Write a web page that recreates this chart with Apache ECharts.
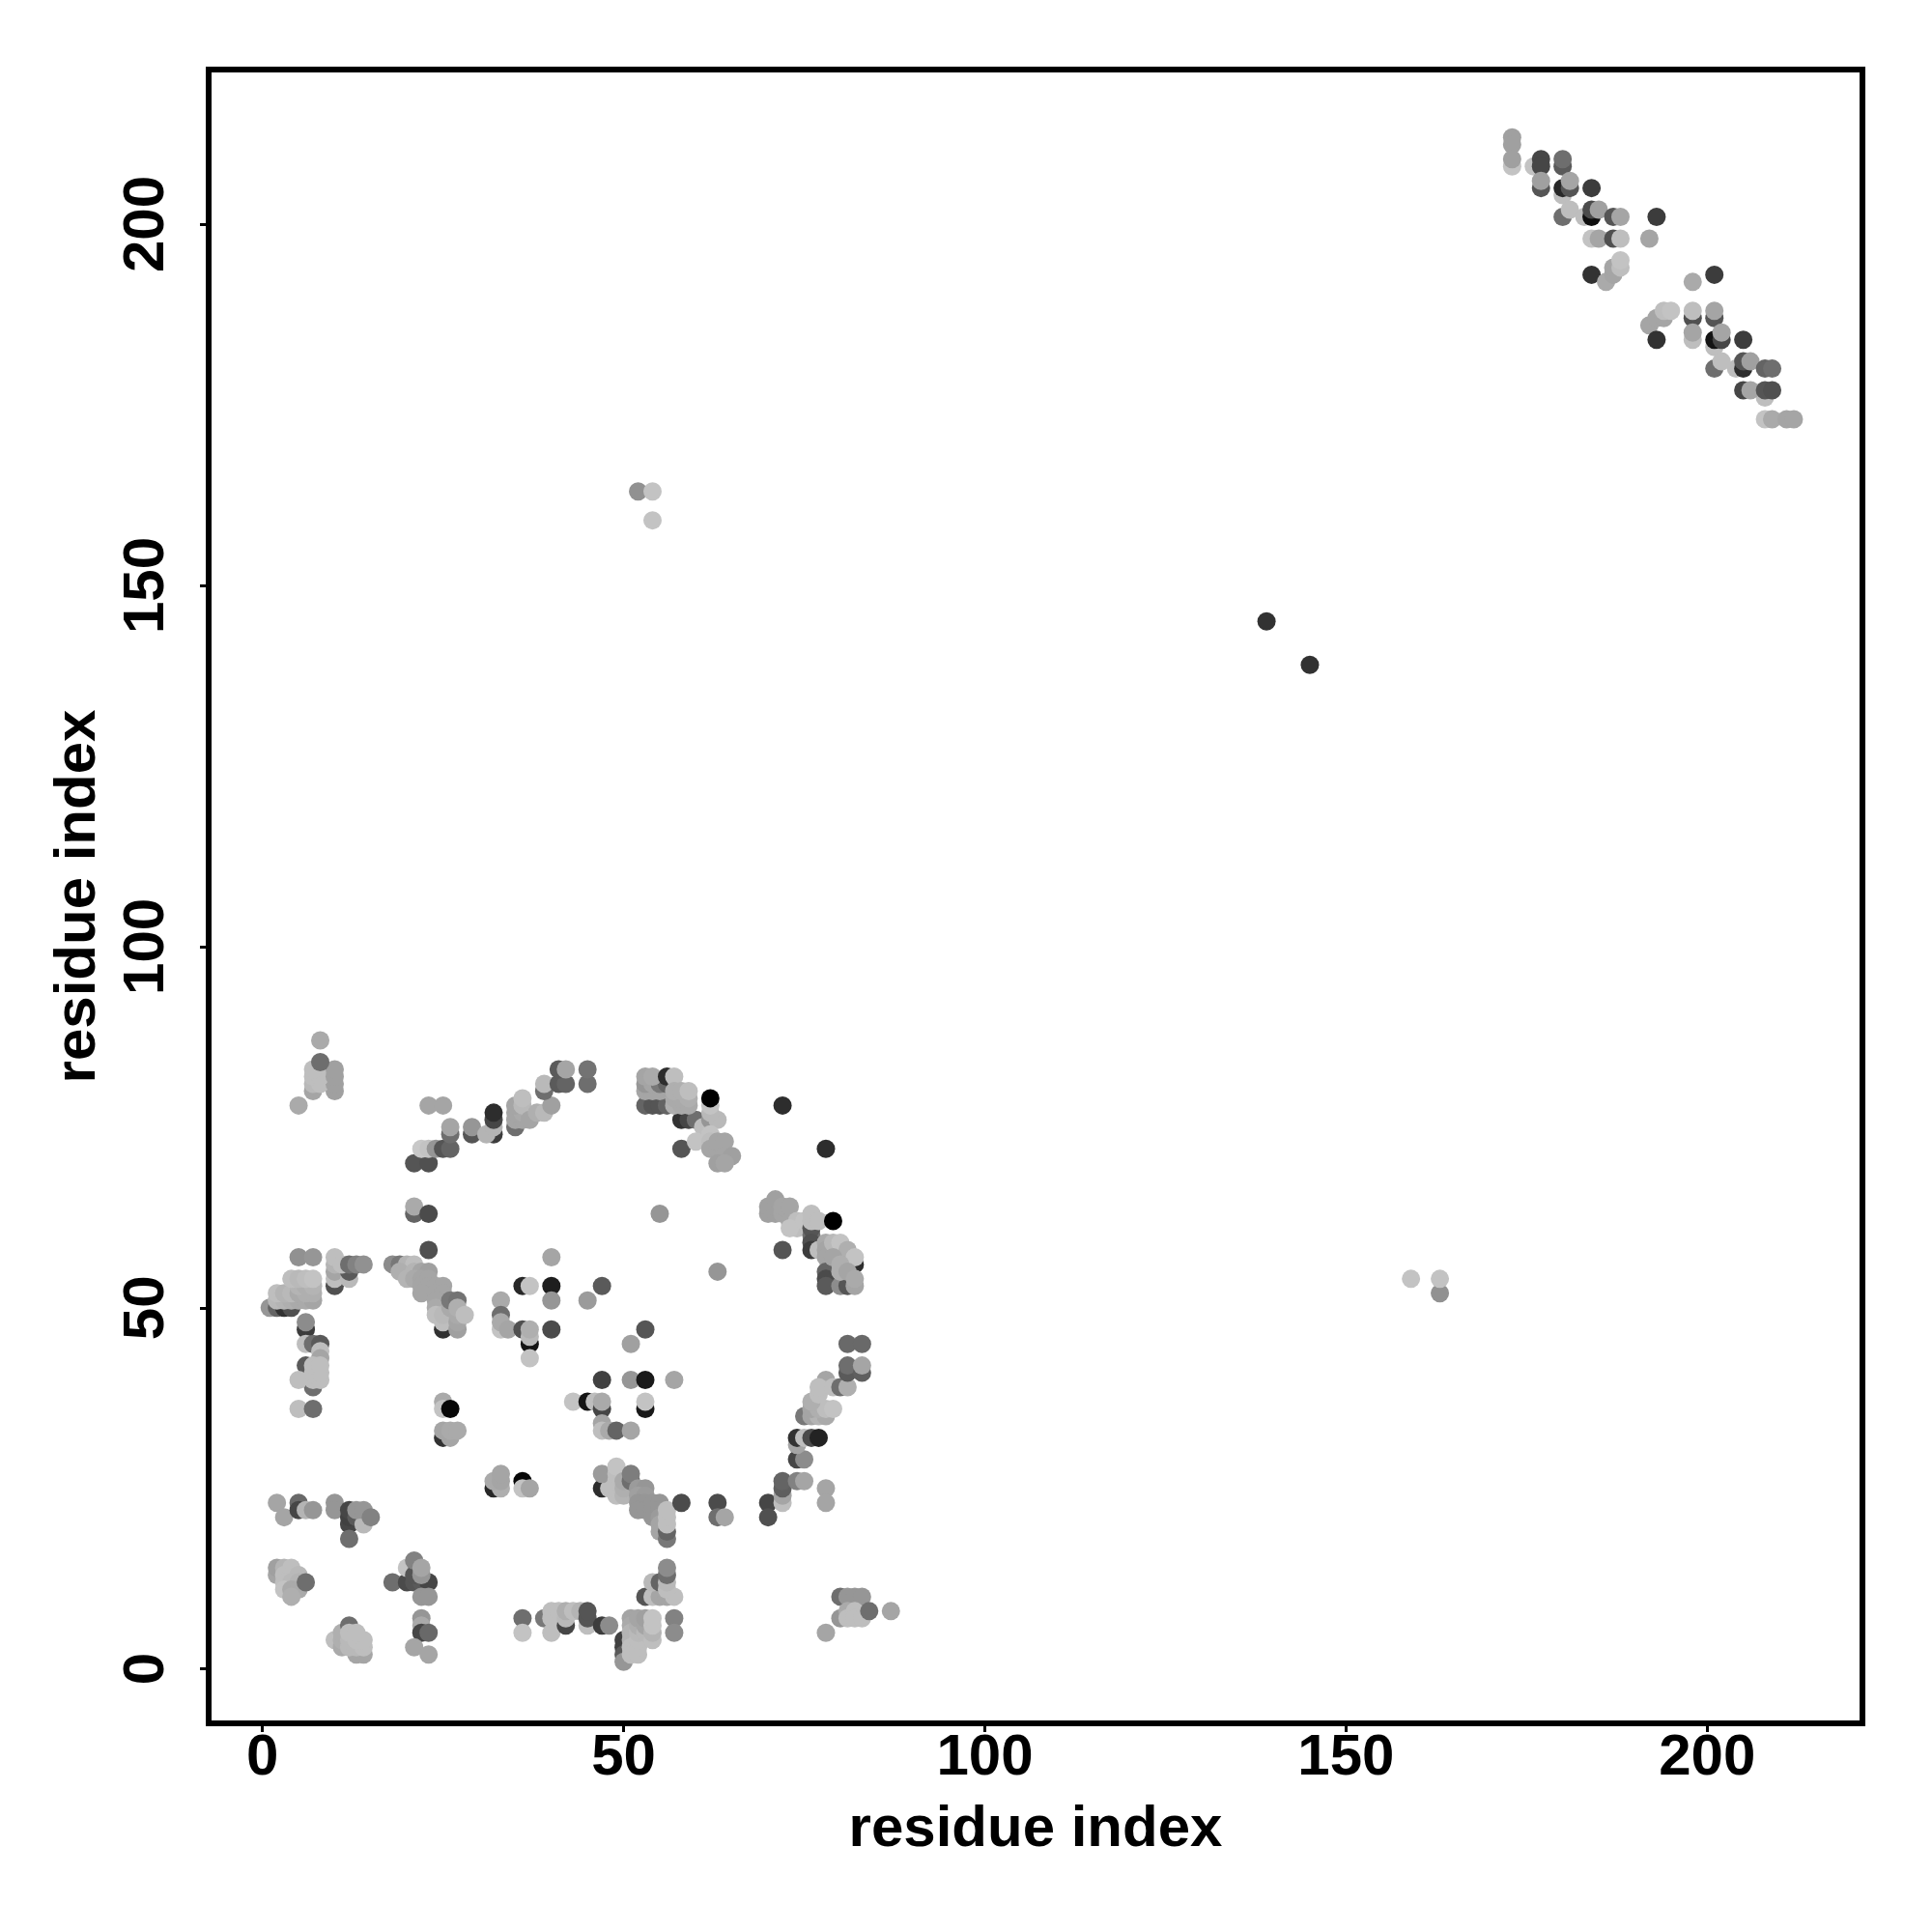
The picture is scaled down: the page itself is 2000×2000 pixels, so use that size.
<!DOCTYPE html>
<html><head><meta charset="utf-8">
<style>html,body{margin:0;padding:0;background:#fff}#c{width:2000px;height:2000px}</style>
<script src="https://cdn.jsdelivr.net/npm/echarts@6/dist/echarts.min.js"></script>
</head><body><div id="c"></div>
<script>
// each contact: [residue i, residue j, grey level]
const axisTicks = [0, 50, 100, 150, 200];
const axisName = 'residue index';
const topLeftA = [[10,80,160],[7,80,165],[7,81,185],[8,81,190],[10,81,160],[7,82,190],[8,82,190],[10,82,160],[10,83,160],[7,83,190],[8,84,110],[8,87,170],[5,78,170]];
const arcB = [[21,70,85],[23,70,80],[22,72,200],[23,72,195],[24,72,150],[25,72,85],[26,72,100],[26,74,110],[26,75,165],[23,78,165],[25,78,165],[29,74,85],[29,75,150],[32,74,60],[31,74,180],[32,75,180],[32,76,70],[32,77,45],[35,75,110],[35,76,165],[36,76,165],[35,77,165],[36,77,170],[35,78,165],[36,78,185],[36,79,190],[37,76,165],[38,77,175],[39,77,185],[40,78,160],[39,80,110],[39,81,185],[41,81,90],[42,81,100],[41,83,90],[42,83,165],[45,81,110],[45,83,115]];
const sideC = [[21,63,100],[21,64,170],[23,63,75],[23,58,80],[55,63,150]];
const rowD = [[5,57,145],[7,57,150],[10,53,80],[10,54,190],[10,55,165],[10,56,180],[10,57,190],[12,54,185],[12,55,90],[11,56,190],[12,56,110],[13,56,130],[14,56,145],[1,50,150],[2,50,100],[3,50,50],[4,50,80],[2,51,185],[3,51,180],[4,51,175],[5,51,170],[6,51,170],[7,51,165],[2,52,190],[3,52,180],[4,52,185],[5,52,170],[6,52,175],[7,52,175],[5,53,180],[6,53,175],[7,53,180],[4,54,190],[5,54,185],[6,54,190],[7,54,195]];
const stackE = [[6,47,60],[6,48,140],[6,45,190],[7,45,110],[8,45,90],[8,44,190],[8,43,165],[6,42,90],[7,39,110],[7,40,190],[8,40,190],[5,40,190],[7,41,190],[8,41,190],[7,42,190],[8,42,190],[5,36,190],[7,36,110]];
const bandF = [[18,56,140],[19,56,120],[20,56,180],[21,56,190],[19,55,175],[21,55,180],[22,55,165],[23,55,160],[20,54,180],[21,54,170],[22,54,165],[23,54,165],[22,53,165],[23,53,165],[24,53,165],[25,53,165],[22,52,165],[24,52,165],[25,52,165],[24,51,165],[24,50,170],[24,49,190],[25,47,50],[25,48,190],[25,49,185],[26,50,170],[26,51,120],[27,51,115],[27,47,160],[27,48,165],[27,49,170],[27,50,175],[28,49,190]];
const midG = [[40,57,165],[36,53,40],[37,53,195],[40,53,30],[40,51,150],[45,51,155],[47,53,90],[33,51,170],[33,49,110],[33,47,195],[33,48,170],[34,47,165],[36,47,80],[37,45,20],[37,43,195],[37,46,185],[37,47,175],[40,47,75],[53,47,85],[51,45,160],[47,40,65],[51,40,150],[53,40,25],[57,40,165]];
const midH = [[25,37,170],[25,36,195],[26,36,8],[25,32,50],[26,32,165],[25,33,165],[26,33,170],[27,33,170],[32,25,40],[33,25,175],[32,26,170],[33,26,165],[33,27,165],[36,26,8],[36,25,195],[37,25,165],[43,37,195],[45,37,20],[46,37,190],[47,36,70],[47,37,170],[53,36,25],[53,37,195],[47,34,165],[47,33,190],[48,33,170],[49,33,100],[51,33,165]];
const diagI = [[47,25,45],[48,25,190],[47,27,155],[49,24,190],[49,25,190],[49,26,190],[49,27,190],[49,28,195],[50,24,180],[50,25,175],[50,26,170],[51,26,110],[51,27,125],[52,25,155],[53,25,150],[52,24,160],[53,24,155],[52,23,150],[53,23,150],[52,22,150],[53,22,150],[54,23,150],[55,23,150],[54,22,150],[54,21,150],[55,22,150],[55,21,155],[55,20,165],[55,19,165],[56,18,120],[56,19,100],[56,20,190],[56,21,190],[56,22,190],[58,23,75],[63,23,75],[63,21,110],[64,21,165],[70,23,70],[70,21,80]];
const rightJ = [[72,23,190],[72,24,165],[72,25,95],[72,26,100],[74,26,130],[75,26,165],[78,25,165],[78,23,165],[74,29,70],[75,29,140],[74,31,165],[74,32,50],[75,32,190],[76,32,75],[77,32,35],[75,35,120],[76,35,165],[77,35,180],[78,35,170],[76,36,165],[77,36,175],[78,36,190],[79,36,195],[76,37,175],[77,38,190],[78,40,165],[77,39,190],[79,39,190],[80,39,110],[81,39,175],[81,41,90],[81,42,110],[83,41,95],[83,42,165],[81,45,105],[83,45,105]];
const lowerK = [[53,10,85],[54,10,190],[55,10,165],[56,10,165],[57,10,190],[54,12,185],[55,12,100],[56,11,190],[56,12,185],[56,13,110],[56,14,140],[57,7,130],[57,5,140],[50,4,65],[50,3,65],[50,2,90],[50,1,150],[51,7,165],[51,6,170],[51,5,180],[51,4,180],[51,3,190],[51,2,190],[52,2,190],[52,3,190],[52,4,190],[52,5,185],[52,6,175],[52,7,165],[53,5,185],[53,6,165],[53,7,160],[54,4,190],[54,5,180],[54,6,195],[54,7,195]];
const rowL = [[36,7,110],[36,5,195],[39,7,120],[40,5,190],[40,7,190],[40,8,190],[41,7,190],[41,8,190],[42,6,70],[42,7,185],[42,8,175],[43,8,190],[44,8,180],[45,6,190],[45,7,85],[45,8,85],[47,6,60],[48,6,140]];
const farM = [[78,5,165],[80,10,110],[81,10,150],[82,10,150],[83,10,150],[80,7,150],[81,8,170],[81,7,190],[82,8,190],[82,7,190],[83,7,190],[84,8,110],[87,8,165]];
const cornerN = [[2,23,165],[3,21,165],[5,23,105],[5,22,70],[6,22,180],[7,22,150],[10,23,150],[10,22,150],[12,20,70],[12,21,65],[12,22,70],[12,18,110],[13,21,90],[14,20,185],[13,22,150],[14,22,150],[15,21,130]];
const cornerO = [[2,13,165],[2,14,160],[3,14,180],[4,14,190],[3,13,190],[4,13,190],[5,13,185],[3,12,190],[4,12,185],[5,12,180],[3,11,195],[4,11,170],[5,11,170],[4,10,175],[6,12,110]];
const cornerP = [[18,12,110],[20,12,75],[21,12,85],[22,12,90],[23,12,70],[20,14,195],[21,13,85],[21,15,130],[22,13,150],[22,14,165],[22,10,150],[23,10,150],[22,7,150],[22,6,170],[22,5,70],[23,5,105],[21,3,165],[23,2,165]];
const cornerQ = [[10,4,190],[11,3,170],[11,4,175],[11,5,175],[12,6,110],[13,2,165],[14,2,165],[12,3,185],[12,4,185],[12,5,190],[13,3,185],[14,3,190],[13,4,190],[14,4,190],[13,5,190]];
const singlesR = [[52,163,145],[54,163,195],[54,159,195],[139,145,50],[145,139,50],[159,54,195],[163,52,145],[163,54,195]];
const upperS = [[53,78,100],[54,78,85],[55,78,85],[56,78,100],[53,80,165],[54,80,165],[55,80,165],[53,81,150],[54,81,165],[55,81,120],[56,81,100],[53,82,165],[54,82,170],[56,82,45],[57,82,190],[58,76,50],[59,76,70],[60,76,110],[57,78,175],[58,78,170],[59,78,170],[57,79,170],[58,79,170],[59,79,175],[57,80,175],[58,80,175],[59,80,190],[61,75,190],[62,76,150],[63,76,185],[62,77,185],[62,78,195],[62,79,0],[58,72,85],[72,78,45],[78,72,45]];
const upperT = [[60,73,195],[62,74,195],[62,73,190],[62,72,165],[63,72,165],[63,73,165],[64,73,165],[64,71,165],[65,71,160],[63,70,160],[64,70,165]];
const ringU = [[70,63,160],[70,64,160],[71,63,160],[71,64,160],[71,65,160],[72,63,165],[72,64,165],[73,62,165],[73,64,165],[74,61,190],[74,62,190],[73,61,195],[75,62,195],[76,60,110],[76,61,85],[76,62,190],[76,63,190],[77,62,190],[79,62,0],[72,58,85],[76,59,80],[76,58,60],[77,58,190],[78,59,170],[78,58,165],[78,57,165],[79,59,185],[80,59,195],[81,56,110],[81,58,175],[82,56,45],[82,57,195],[78,55,100],[78,54,75],[78,53,90],[80,53,140],[81,53,85],[82,53,165],[79,57,165],[80,55,175],[80,56,175],[81,55,165],[82,54,170],[63,55,150]];
const diagV = [[173,212,160],[173,211,160],[173,208,195],[173,209,160],[176,208,195],[177,209,70],[177,208,70],[177,205,85],[177,206,160],[180,208,90],[180,209,110],[180,204,190],[180,205,40],[181,205,85],[181,206,165],[184,205,60],[180,201,110],[181,202,190],[183,201,190],[184,201,15],[184,202,75],[185,202,160],[187,201,85],[188,201,165],[193,201,60],[184,198,195],[185,198,165],[187,198,80],[188,198,190],[192,198,165]];
const diagW = [[184,193,50],[186,192,170],[187,193,165],[187,194,165],[188,194,190],[188,195,195],[198,192,170],[201,193,60],[192,186,165],[193,187,165],[194,187,165],[194,188,190],[195,188,195],[193,184,50],[198,187,80],[198,188,190],[198,184,190],[198,185,165],[201,187,85],[201,188,165],[201,183,190],[201,184,20],[202,184,70],[202,185,165],[205,184,60]];
const diagX = [[201,180,110],[204,180,190],[202,181,190],[205,180,45],[205,181,85],[206,181,160],[208,180,100],[209,180,110],[208,176,190],[205,177,70],[206,177,165],[208,177,85],[209,177,80],[208,173,195],[209,173,170],[211,173,165],[212,173,165]];
const contacts = [topLeftA, arcB, sideC, rowD, stackE, bandF, midG, midH, diagI, rightJ, lowerK, rowL, farM, cornerN, cornerO, cornerP, cornerQ, singlesR, upperS, upperT, ringU, diagV, diagW, diagX].flat();

const font = {fontFamily:'"Liberation Sans"', fontWeight:'bold', fontSize:60, color:'#000'};
const tick = {show:true, length:9, lineStyle:{color:'#000', width:3}, customValues:axisTicks};
const chart = echarts.init(document.getElementById('c'), null, {renderer:'canvas', width:2000, height:2000});
chart.setOption({
  animation:false,
  backgroundColor:'#fff',
  grid:{left:216, right:72, top:72, bottom:216, show:true, backgroundColor:'transparent', borderColor:'#000', borderWidth:6, containLabel:false},
  visualMap:{show:false, type:'continuous', dimension:2, min:0, max:255, inRange:{color:['#000000','#ffffff']}, seriesIndex:0},
  xAxis:{type:'value', min:-7.45, max:221.5, splitLine:{show:false}, axisLine:{show:false, onZero:false},
    axisTick:tick, axisLabel:{...font, margin:6, customValues:axisTicks},
    name:axisName, nameLocation:'middle', nameGap:80, nameMoveOverlap:false, nameTextStyle:font},
  yAxis:{type:'value', min:-7.53, max:221.4, splitLine:{show:false}, axisLine:{show:false, onZero:false},
    axisTick:tick, axisLabel:{...font, margin:64, rotate:90, align:'center', verticalAlign:'middle', customValues:axisTicks},
    name:axisName, nameLocation:'middle', nameGap:105, nameMoveOverlap:false, nameRotate:90, nameTextStyle:font},
  series:[{type:'scatter', data:contacts, symbol:'circle', symbolSize:19, silent:true, itemStyle:{opacity:1}, large:false, progressive:0}]
});
</script></body></html>
